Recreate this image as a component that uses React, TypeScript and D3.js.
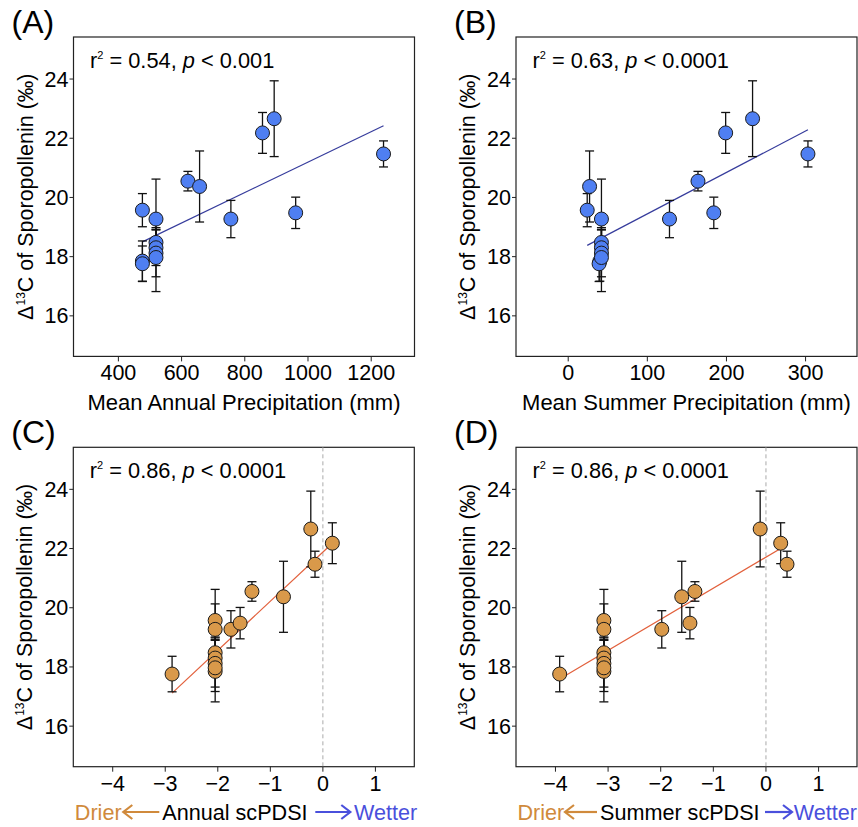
import React from 'react'
import * as d3 from 'd3'

// site values (one entry per site, same order everywhere)
const delta = [19.57, 19.27, 20.55, 20.37, 19.27, 22.18, 22.66, 19.48, 21.47, 17.85, 17.76, 18.48, 18.3, 18.12, 17.97]
const deltaErr = [0.56, 1.35, 0.33, 1.2, 0.63, 0.69, 1.28, 0.53, 0.44, 0.68, 0.6, 0.5, 0.6, 0.8, 1.15]
const annualPrecip = [476, 519, 620, 657, 756, 856, 893, 961, 1239, 476, 476, 519, 519, 519, 519]
const summerPrecip = [24, 42, 164, 27, 128, 199, 233, 184, 303, 40, 39, 42, 42, 42, 42]
const annualPdsi = [-2.05, -2.05, -1.35, -0.75, -1.75, 0.18, -0.23, -1.575, -0.15, -2.05, -2.87, -2.05, -2.05, -2.05, -2.05]
const summerPdsi = [-3.08, -3.08, -1.35, -1.6, -1.98, 0.28, -0.11, -1.445, 0.4, -3.08, -3.92, -3.08, -3.08, -3.08, -3.08]

const yTicks = [16, 18, 20, 22, 24]
const precipTicks = [400, 600, 800, 1000, 1200]
const summerTicks = [0, 100, 200, 300]
const pdsiTicks = [-4, -3, -2, -1, 0, 1]

// fitted lines: [intercept, slope]
const fitA = [16.052, 0.005143]
const fitB = [18.045, 0.014]
const fitC = [21.88, 1.66]
const fitD = [21.71, 1.05]

const statsText = [
	['0.54', '0.001'],
	['0.63', '0.0001'],
	['0.86', '0.0001'],
	['0.86', '0.0001'],
]

const BLUE = '#4f7ff2'
const ORANGE = '#d9994a'
const FONT = 'Liberation Sans, Arial, sans-serif'

const Panel = ({ label, left, top, width, height, xs, xDomain, xTicks, fit, fill, lineColor, stats, zeroLine, title }) => {
	const x = d3.scaleLinear().domain(xDomain).range([left, left + width])
	const y = d3.scaleLinear().domain([14.63, 25.42]).range([top + height, top])
	const bottom = top + height
	const [x0, x1] = d3.extent(xs)
	const fmt = v => (v < 0 ? '\u2212' + Math.abs(v) : String(v))

	return (
		<g fontFamily={FONT}>
			<text x={left - 62} y={top - 4} fontSize={32}>{label}</text>
			{/* frame */}
			<rect x={left} y={top} width={width} height={height} fill="none" stroke="#222" strokeWidth={1.2} />
			{zeroLine && (
				<line x1={x(0)} x2={x(0)} y1={top} y2={bottom} stroke="#aaa" strokeDasharray="4,3" />
			)}
			{/* y axis */}
			{yTicks.map(t => (
				<g key={t}>
					<line x1={left - 4} x2={left} y1={y(t)} y2={y(t)} stroke="#222" />
					<text x={left - 5} y={y(t) + 7.5} fontSize={21.5} textAnchor="end">{t}</text>
				</g>
			))}
			{/* x axis */}
			{xTicks.map(t => (
				<g key={t}>
					<line x1={x(t)} x2={x(t)} y1={bottom} y2={bottom + 5} stroke="#222" />
					<text x={x(t)} y={bottom + 24} fontSize={21.5} textAnchor="middle">{fmt(t)}</text>
				</g>
			))}
			<text transform={`translate(${left - 41},${top + height / 2}) rotate(-90)`} fontSize={21.5} textAnchor="middle">
				{'\u0394'}
				<tspan fontSize={12} dy={-8}>13</tspan>
				<tspan dy={8}>C of Sporopollenin (‰)</tspan>
			</text>
			{title}
			{/* regression */}
			<line
				x1={x(x0)}
				x2={x(x1)}
				y1={y(fit[0] + fit[1] * x0)}
				y2={y(fit[0] + fit[1] * x1)}
				stroke={lineColor}
				strokeWidth={1.2}
			/>
			{/* error bars */}
			{xs.map((v, i) => (
				<g key={'e' + i} stroke="#111" strokeWidth={1.3}>
					<line x1={x(v)} x2={x(v)} y1={y(delta[i] + deltaErr[i])} y2={y(delta[i] - deltaErr[i])} />
					<line x1={x(v) - 4.5} x2={x(v) + 4.5} y1={y(delta[i] + deltaErr[i])} y2={y(delta[i] + deltaErr[i])} />
					<line x1={x(v) - 4.5} x2={x(v) + 4.5} y1={y(delta[i] - deltaErr[i])} y2={y(delta[i] - deltaErr[i])} />
				</g>
			))}
			{xs.map((v, i) => (
				<circle key={'c' + i} cx={x(v)} cy={y(delta[i])} r={7} fill={fill} stroke="#1a1a1a" strokeWidth={1} />
			))}
			<text x={left + 16.5} y={top + 30.5} fontSize={21.8}>
				r<tspan fontSize={11} dy={-9}>2</tspan>
				<tspan dy={9}>{` = ${stats[0]}, `}</tspan>
				<tspan fontStyle="italic">p</tspan>
				{` < ${stats[1]}`}
			</text>
		</g>
	)
}

const Arrow = ({ x1, x2, y, color }) => {
	const dir = x2 > x1 ? 1 : -1
	return (
		<g stroke={color} strokeWidth={2.2} fill="none">
			<line x1={x1} x2={x2} y1={y} y2={y} />
			<polyline points={`${x2 - dir * 9},${y - 7} ${x2},${y} ${x2 - dir * 9},${y + 7}`} />
		</g>
	)
}

// "Drier <- label -> Wetter"; offsets are pixels from the frame's left edge
const PdsiTitle = ({ left, y, word, arrowL, arrowR, textStart, wetterEnd }) => (
	<g fontFamily={FONT} fontSize={21.6}>
		<text x={left + 1.5} y={y} fill="#d08a3c">Drier</text>
		<Arrow x1={left + arrowL[1]} x2={left + arrowL[0]} y={y - 8} color="#d08a3c" />
		<text x={left + textStart} y={y}>{word}</text>
		<Arrow x1={left + arrowR[0]} x2={left + arrowR[1]} y={y - 8} color="#4a50dc" />
		<text x={left + wetterEnd} y={y} textAnchor="end" fill="#4a50dc">Wetter</text>
	</g>
)

export default function App() {
	const W = 341
	const H = 319.4
	return (
		<svg width={858} height={827} style={{ position: 'absolute', left: 0, top: 0, background: '#fff' }}>
			<Panel
				label="(A)"
				left={73.5}
				top={37}
				width={W}
				height={H}
				xs={annualPrecip}
				xDomain={[258, 1337]}
				xTicks={precipTicks}
				fit={fitA}
				fill={BLUE}
				lineColor="#363c9c"
				stats={statsText[0]}
				title={
					<text x={73.5 + W / 2} y={37 + H + 53.5} fontSize={22} textAnchor="middle">
						Mean Annual Precipitation (mm)
					</text>
				}
			/>
			<Panel
				label="(B)"
				left={516}
				top={37}
				width={W}
				height={H}
				xs={summerPrecip}
				xDomain={[-66, 365]}
				xTicks={summerTicks}
				fit={fitB}
				fill={BLUE}
				lineColor="#363c9c"
				stats={statsText[1]}
				title={
					<text x={516 + W / 2} y={37 + H + 53.5} fontSize={22} textAnchor="middle">
						Mean Summer Precipitation (mm)
					</text>
				}
			/>
			<Panel
				label="(C)"
				left={73.3}
				top={447.3}
				width={W}
				height={H}
				xs={annualPdsi}
				xDomain={[-4.75, 1.74]}
				xTicks={pdsiTicks}
				fit={fitC}
				fill={ORANGE}
				lineColor="#e2603c"
				stats={statsText[2]}
				zeroLine
				title={
					<PdsiTitle left={73.3} y={820} word="Annual scPDSI" arrowL={[50, 86]} arrowR={[242, 277]} textStart={89} wetterEnd={344} />
				}
			/>
			<Panel
				label="(D)"
				left={516}
				top={447.3}
				width={W}
				height={H}
				xs={summerPdsi}
				xDomain={[-4.75, 1.73]}
				xTicks={pdsiTicks}
				fit={fitD}
				fill={ORANGE}
				lineColor="#e2603c"
				stats={statsText[3]}
				zeroLine
				title={
					<PdsiTitle left={516} y={820} word="Summer scPDSI" arrowL={[49, 81]} arrowR={[249, 276]} textStart={84} wetterEnd={341} />
				}
			/>
		</svg>
	)
}
